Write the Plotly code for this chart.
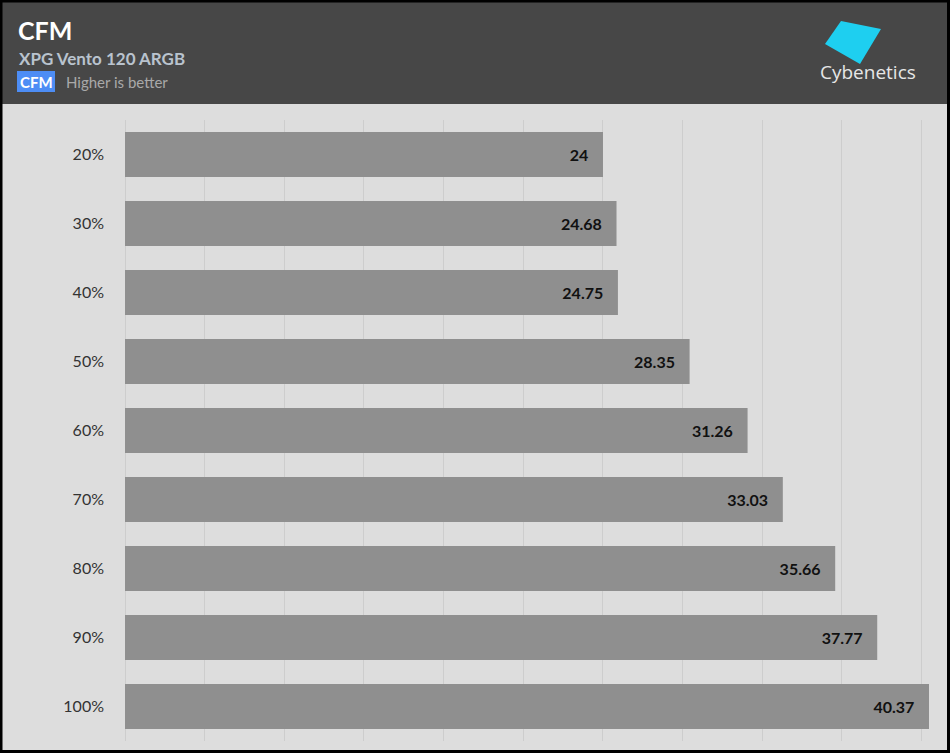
import plotly.graph_objects as go

categories = ["20%", "30%", "40%", "50%", "60%", "70%", "80%", "90%", "100%"]
cfm_values = [24, 24.68, 24.75, 28.35, 31.26, 33.03, 35.66, 37.77, 40.37]
value_labels = ["24", "24.68", "24.75", "28.35", "31.26", "33.03", "35.66", "37.77", "40.37"]

W, H = 950, 753
ML, MR, MT, MB = 125, 21, 120, 12
PW, PH = W - ML - MR, H - MT - MB


def px(x):
    return (x - ML) / PW


def py(y):
    return 1 - (y - MT) / PH


fig = go.Figure()
fig.add_trace(go.Bar(
    y=categories,
    x=cfm_values,
    orientation="h",
    marker=dict(color="#8f8f8f", line=dict(width=0)),
    text=[v + "\u00a0\u00a0\u00a0" for v in value_labels],
    textposition="inside",
    insidetextanchor="end",
    textangle=0,
    textfont=dict(family="Lato, sans-serif", size=16, color="#111111", weight="bold"),
    cliponaxis=False,
    hoverinfo="skip",
))

shapes = [
    # header band
    dict(type="rect", xref="paper", yref="paper", x0=px(0), x1=px(W), y0=py(104), y1=py(0),
         fillcolor="#474747", line=dict(width=0), layer="below"),
    # CFM badge
    dict(type="rect", xref="paper", yref="paper", x0=px(17), x1=px(55), y0=py(92), y1=py(71),
         fillcolor="#4d8df5", line=dict(width=0)),
    # logo parallelogram
    dict(type="path", xref="paper", yref="paper",
         path="M {0},{1} L {2},{3} L {4},{5} L {6},{7} Z".format(
             px(841), py(21), px(881), py(29), px(860), py(64), px(825), py(44)),
         fillcolor="#1ecff0", line=dict(width=0)),
    # outer border
    dict(type="rect", xref="paper", yref="paper", x0=px(1), x1=px(W - 1.5), y0=py(H - 1.5), y1=py(1),
         fillcolor="rgba(0,0,0,0)", line=dict(color="#000000", width=3)),
]

annotations = [
    dict(text="CFM", x=px(16), y=py(30), xref="paper", yref="paper", xanchor="left", yanchor="middle",
         showarrow=False, font=dict(family="Lato, sans-serif", size=25, color="#ffffff", weight="bold")),
    dict(text="XPG Vento 120 ARGB", x=px(17), y=py(58), xref="paper", yref="paper", xanchor="left",
         yanchor="middle", showarrow=False,
         font=dict(family="Lato, sans-serif", size=17, color="#b9c3ce", weight="bold")),
    dict(text="CFM", x=px(36), y=py(82), xref="paper", yref="paper", xanchor="center", yanchor="middle",
         showarrow=False, font=dict(family="Lato, sans-serif", size=15, color="#ffffff", weight="bold")),
    dict(text="Higher is better", x=px(64), y=py(82), xref="paper", yref="paper", xanchor="left",
         yanchor="middle", showarrow=False, font=dict(family="Lato, sans-serif", size=15, color="#a9a9a9")),
    dict(text="Cybenetics", x=px(868), y=py(72), xref="paper", yref="paper", xanchor="center",
         yanchor="middle", showarrow=False, font=dict(family="Open Sans, sans-serif", size=19, color="#e6e6e6")),
]

fig.update_layout(
    width=W, height=H,
    margin=dict(l=ML, r=MR, t=MT, b=MB, pad=0),
    paper_bgcolor="#dddddd",
    plot_bgcolor="#dddddd",
    bargap=0.35,
    showlegend=False,
    shapes=shapes,
    annotations=annotations,
    xaxis=dict(range=[0, 40.37], dtick=4, tick0=0, showgrid=True, gridcolor="#cdcdcd", gridwidth=1,
               zeroline=True, zerolinecolor="#cdcdcd", zerolinewidth=1,
               showticklabels=False, showline=False, fixedrange=True),
    yaxis=dict(categoryorder="array", categoryarray=categories, autorange="reversed",
               showgrid=False, zeroline=False, showline=False,
               ticks="", ticklabelstandoff=20,
               tickfont=dict(family="Lato, sans-serif", size=16, color="#333333")),
)

fig.write_html("out.html", config={"displayModeBar": False},
               post_script="document.body.style.margin='0';")
